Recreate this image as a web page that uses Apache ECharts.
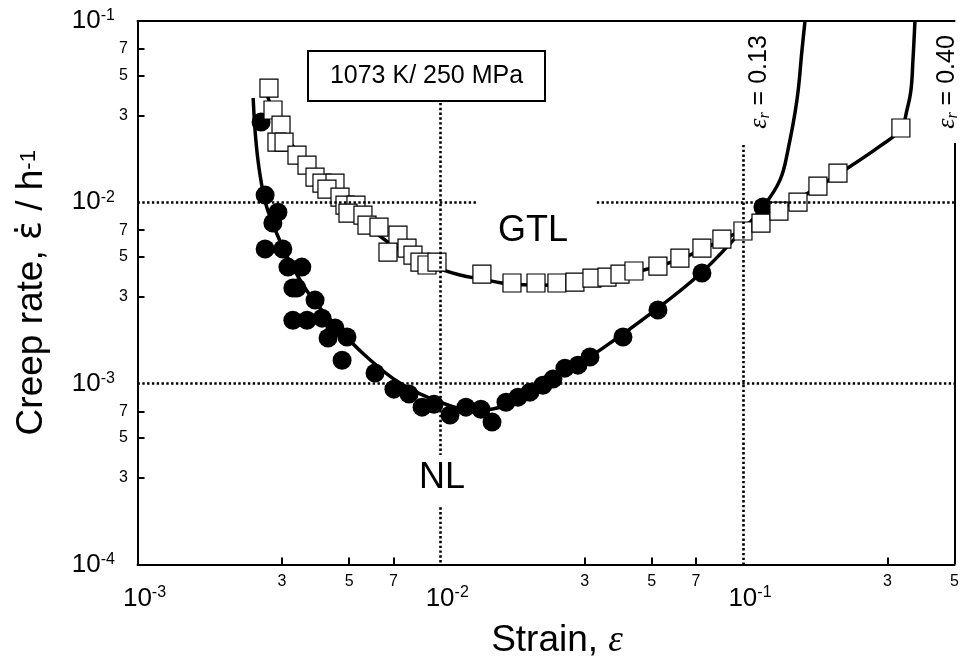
<!DOCTYPE html>
<html>
<head>
<meta charset="utf-8">
<script src="https://cdn.jsdelivr.net/npm/echarts@6/dist/echarts.min.js"></script>
<style>html,body{margin:0;padding:0;background:#fff}#chart{width:962px;height:671px}</style>
</head>
<body>
<div id="chart"></div>
<script>
// ---- data ----
const nlStrain = [0.00256,0.00264,0.00291,0.00280,0.00264,0.00302,0.00314,0.00349,0.00326,0.00336,0.00386,0.00326,0.00363,0.00407,0.00449,0.00426,0.00492,0.00474,0.00609,0.00703,0.00789,0.00871,0.00954,0.01077,0.01216,0.01363,0.01483,0.01649,0.01807,0.01979,0.02184,0.02357,0.02582,0.02851,0.03124,0.04015,0.05238,0.0732,0.1164];
const nlRate = [0.0277,0.01094,0.00881,0.00767,0.00551,0.00551,0.00438,0.00438,0.00336,0.00336,0.00288,0.00223,0.00223,0.00229,0.00202,0.00178,0.00180,0.00134,0.00114,0.000929,0.000872,0.000739,0.000767,0.000668,0.000739,0.000720,0.000611,0.000787,0.000839,0.000894,0.000977,0.001055,0.001213,0.00126,0.001396,0.0018,0.00254,0.00406,0.0094];

const gtlStrain = [0.002718,0.002803,0.002979,0.002889,0.003048,0.003364,0.003630,0.003858,0.004068,0.004491,0.004225,0.004666,0.004846,0.005268,0.004958,0.005556,0.005729,0.006276,0.007251,0.006721,0.007767,0.008128,0.008571,0.009042,0.009757,0.01373,0.01726,0.02072,0.02430,0.02786,0.03171,0.03555,0.03925,0.04365,0.05238,0.06191,0.0732,0.08521,0.1,0.1147,0.1315,0.1520,0.1769,0.2060,0.3325];
const gtlRate = [0.04266,0.03226,0.02665,0.02147,0.02147,0.01820,0.01603,0.01376,0.01275,0.01275,0.01181,0.01067,0.00964,0.00964,0.00871,0.00849,0.00747,0.00729,0.00658,0.00530,0.00558,0.00510,0.00467,0.00450,0.00467,0.00401,0.00358,0.00358,0.00358,0.00362,0.00381,0.00386,0.00401,0.00417,0.00444,0.00491,0.00558,0.00625,0.00693,0.00767,0.00893,0.01001,0.01227,0.01448,0.02566];

const nlFitStrain = [0.00241,0.00246,0.00254,0.00266,0.00287,0.00319,0.00371,0.00449,0.00564,0.00736,0.00998,0.01302,0.01700,0.02304,0.0337,0.0493,0.0721,0.0977,0.1164,0.1325,0.1408,0.1508,0.1567,0.1603];
const nlFitRate = [0.0376,0.0220,0.01412,0.00964,0.00684,0.00467,0.00307,0.0021,0.00143,0.001003,0.000787,0.000711,0.000767,0.001015,0.001525,0.00241,0.00401,0.00675,0.0094,0.01324,0.0194,0.0366,0.0692,0.1];

const gtlFitStrain = [0.002677,0.002846,0.003071,0.003441,0.004007,0.004666,0.005431,0.006324,0.00736,0.008571,0.00998,0.01162,0.01373,0.01700,0.02136,0.02683,0.0337,0.04569,0.06191,0.08395,0.1138,0.1542,0.2091,0.2836,0.3325,0.3481,0.3589,0.3644,0.3700];
const gtlFitRate = [0.03904,0.03027,0.02347,0.01820,0.01359,0.01053,0.00817,0.0065,0.00544,0.00467,0.00427,0.00396,0.00376,0.00353,0.00348,0.00358,0.00376,0.00417,0.00485,0.0061,0.00787,0.01053,0.01448,0.0204,0.02533,0.03226,0.04159,0.0609,0.1];

const xTickLabels = [0.001,0.003,0.005,0.007,0.01,0.03,0.05,0.07,0.1,0.3,0.5];
const xMinorTicks = [0.003,0.005,0.007,0.03,0.05,0.07,0.3];
const yTickLabels = [0.0001,0.0003,0.0005,0.0007,0.001,0.003,0.005,0.007,0.01,0.03,0.05,0.07,0.1];
const yMinorTicks = [0.0003,0.0005,0.0007,0.003,0.005,0.007,0.03,0.05,0.07];

const fractureLabels = ['0.13', '0.40'];
const boxText = '1073 K/ 250 MPa';

// ---- helpers ----
const FONT = 'Liberation Sans, Arial, Helvetica, sans-serif';
function zip(a, b) { return a.map((v, i) => [v, b[i]]); }
function logFmt(v) {
  const e = Math.log10(v);
  const r = Math.round(e);
  if (Math.abs(e - r) < 1e-6) return '{b|10}{s|' + r + '}';
  const m = Math.round(v / Math.pow(10, Math.floor(e + 1e-9)));
  return '{m|' + m + '}';
}

const chart = echarts.init(document.getElementById('chart'), null, {renderer: 'canvas'});

const refLines = [
  [{coord: [0.001, 0.01]}, {coord: [0.0132, 0.01]}],
  [{coord: [0.0329, 0.01]}, {coord: [0.5, 0.01]}],
  [{coord: [0.001, 0.001]}, {coord: [0.5, 0.001]}],
  [{coord: [0.01, 0.0353]}, {coord: [0.01, 0.000402]}],
  [{coord: [0.01, 0.000207]}, {coord: [0.01, 0.0001]}],
  [{coord: [0.1, 0.0207]}, {coord: [0.1, 0.0001]}]
];
const rightBorder = [[{coord: [0.5, 0.0001], lineStyle: {color: '#000', width: 2, type: 'solid'}}, {coord: [0.5, 0.0212]}]];

const option = {
  animation: false,
  backgroundColor: '#fff',
  textStyle: {fontFamily: FONT},
  grid: {left: 137.5, right: 7, top: 21, bottom: 106.5, containLabel: false},
  xAxis: [{
    type: 'log', logBase: 10, min: 0.001, max: 0.5, position: 'bottom',
    axisLine: {show: true, onZero: false, lineStyle: {color: '#000', width: 2}},
    axisTick: {show: true, inside: true, length: 7, customValues: xMinorTicks, lineStyle: {color: '#000', width: 2}},
    minorTick: {show: false},
    splitLine: {show: false},
    axisLabel: {
      show: true, customValues: xTickLabels, margin: 9.5, color: '#000', formatter: logFmt,
      rich: {
        m: {fontSize: 16, lineHeight: 16, fontFamily: FONT, color: '#000'},
        b: {fontSize: 26, lineHeight: 26, fontFamily: FONT, color: '#000', verticalAlign: 'top', padding: [12, 0, 0, 14]},
        s: {fontSize: 16, lineHeight: 16, fontFamily: FONT, color: '#000', verticalAlign: 'top', padding: [11, 0, 0, 0]}
      }
    },
    name: '{t|Strain, }{e|\u03b5}', nameLocation: 'middle', nameGap: 58,
    nameTextStyle: {
      color: '#000',
      rich: {
        t: {fontSize: 37, fontFamily: FONT, color: '#000', padding: [0, 0, 0, 22]},
        e: {fontSize: 37, fontFamily: 'Liberation Serif, Times New Roman, serif', fontStyle: 'italic', color: '#000'}
      }
    }
  }, {
    type: 'log', logBase: 10, min: 0.001, max: 0.5, position: 'top',
    axisLine: {show: true, onZero: false, lineStyle: {color: '#000', width: 2}},
    axisTick: {show: false}, axisLabel: {show: false}, splitLine: {show: false}
  }],
  yAxis: [{
    type: 'log', logBase: 10, min: 0.0001, max: 0.1, position: 'left',
    axisLine: {show: true, onZero: false, lineStyle: {color: '#000', width: 2}},
    axisTick: {show: true, inside: true, length: 7, customValues: yMinorTicks, lineStyle: {color: '#000', width: 2}},
    minorTick: {show: false},
    splitLine: {show: false},
    axisLabel: {
      show: true, customValues: yTickLabels, margin: 9.5, color: '#000', formatter: logFmt,
      rich: {
        m: {fontSize: 16, lineHeight: 16, fontFamily: FONT, color: '#000'},
        b: {fontSize: 26, lineHeight: 26, fontFamily: FONT, color: '#000', verticalAlign: 'top'},
        s: {fontSize: 16, lineHeight: 16, fontFamily: FONT, color: '#000', verticalAlign: 'top', padding: [0, 13, 0, 0]}
      }
    },
    name: '{t|Creep rate, }{d|\u03b5\u0307}{t| / h}{s|-1}', nameLocation: 'middle', nameRotate: 90, nameGap: 86,
    nameTextStyle: {
      color: '#000',
      rich: {
        t: {fontSize: 37, lineHeight: 40, fontFamily: FONT, color: '#000'},
        d: {fontSize: 35, lineHeight: 40, fontFamily: 'DejaVu Sans, sans-serif', color: '#000'},
        s: {fontSize: 22, lineHeight: 22, fontFamily: FONT, color: '#000', padding: [0, 0, 6, 0]}
      }
    }
  }],
  series: [
    {
      type: 'line', name: 'refs', data: [], clip: false, z: 1, silent: true,
      markLine: {silent: true, symbol: 'none', label: {show: false}, animation: false,
        lineStyle: {color: '#000', width: 2.6, type: [2.4, 2.4], opacity: 1},
        data: refLines.concat(rightBorder)}
    },
    {
      type: 'line', name: 'NL fit', data: zip(nlFitStrain, nlFitRate), smooth: 0.4,
      showSymbol: false, symbol: 'none', clip: true, z: 2,
      lineStyle: {color: '#000', width: 3.5}
    },
    {
      type: 'line', name: 'GTL fit', data: zip(gtlFitStrain, gtlFitRate), smooth: 0.4,
      showSymbol: false, symbol: 'none', clip: true, z: 2,
      lineStyle: {color: '#000', width: 3.5}
    },
    {
      type: 'scatter', name: 'NL', data: zip(nlStrain, nlRate), symbol: 'circle', symbolSize: 19, z: 3,
      itemStyle: {color: '#000', opacity: 1}
    },
    {
      type: 'scatter', name: 'GTL', data: zip(gtlStrain, gtlRate), symbol: 'rect', symbolSize: 18, z: 4,
      itemStyle: {color: '#fff', borderColor: '#000', borderWidth: 1.2, opacity: 1}
    }
  ],
  graphic: [
    {type: 'rect', z: 50, shape: {x: 308, y: 51, width: 237, height: 50},
      style: {fill: '#fff', stroke: '#000', lineWidth: 2}},
    {type: 'text', z: 51, x: 426.5, y: 76,
      style: {text: boxText, fontSize: 25, fontFamily: FONT, fill: '#000', align: 'center', verticalAlign: 'middle'}},
    {type: 'text', z: 51, x: 533, y: 231,
      style: {text: 'GTL', fontSize: 36, fontFamily: FONT, fill: '#000', align: 'center', verticalAlign: 'middle'}},
    {type: 'text', z: 51, x: 442, y: 478,
      style: {text: 'NL', fontSize: 36, fontFamily: FONT, fill: '#000', align: 'center', verticalAlign: 'middle'}},
    {type: 'text', z: 51, x: 759, y: 82, rotation: Math.PI / 2,
      style: {text: '{e|\u03b5}{r|r}{t| = ' + fractureLabels[0] + '}', align: 'center', verticalAlign: 'middle', fill: '#000',
        rich: {
          e: {fontSize: 26, lineHeight: 28, fontFamily: 'Liberation Serif, serif', fontStyle: 'italic', fill: '#000'},
          r: {fontSize: 16, lineHeight: 16, fontFamily: 'Liberation Serif, serif', fontStyle: 'italic', fill: '#000', verticalAlign: 'bottom'},
          t: {fontSize: 25, lineHeight: 28, fontFamily: FONT, fill: '#000'}
        }}},
    {type: 'text', z: 51, x: 947, y: 82, rotation: Math.PI / 2,
      style: {text: '{e|\u03b5}{r|r}{t| = ' + fractureLabels[1] + '}', align: 'center', verticalAlign: 'middle', fill: '#000',
        rich: {
          e: {fontSize: 26, lineHeight: 28, fontFamily: 'Liberation Serif, serif', fontStyle: 'italic', fill: '#000'},
          r: {fontSize: 16, lineHeight: 16, fontFamily: 'Liberation Serif, serif', fontStyle: 'italic', fill: '#000', verticalAlign: 'bottom'},
          t: {fontSize: 25, lineHeight: 28, fontFamily: FONT, fill: '#000'}
        }}}
  ]
};
chart.setOption(option);
</script>
</body>
</html>
